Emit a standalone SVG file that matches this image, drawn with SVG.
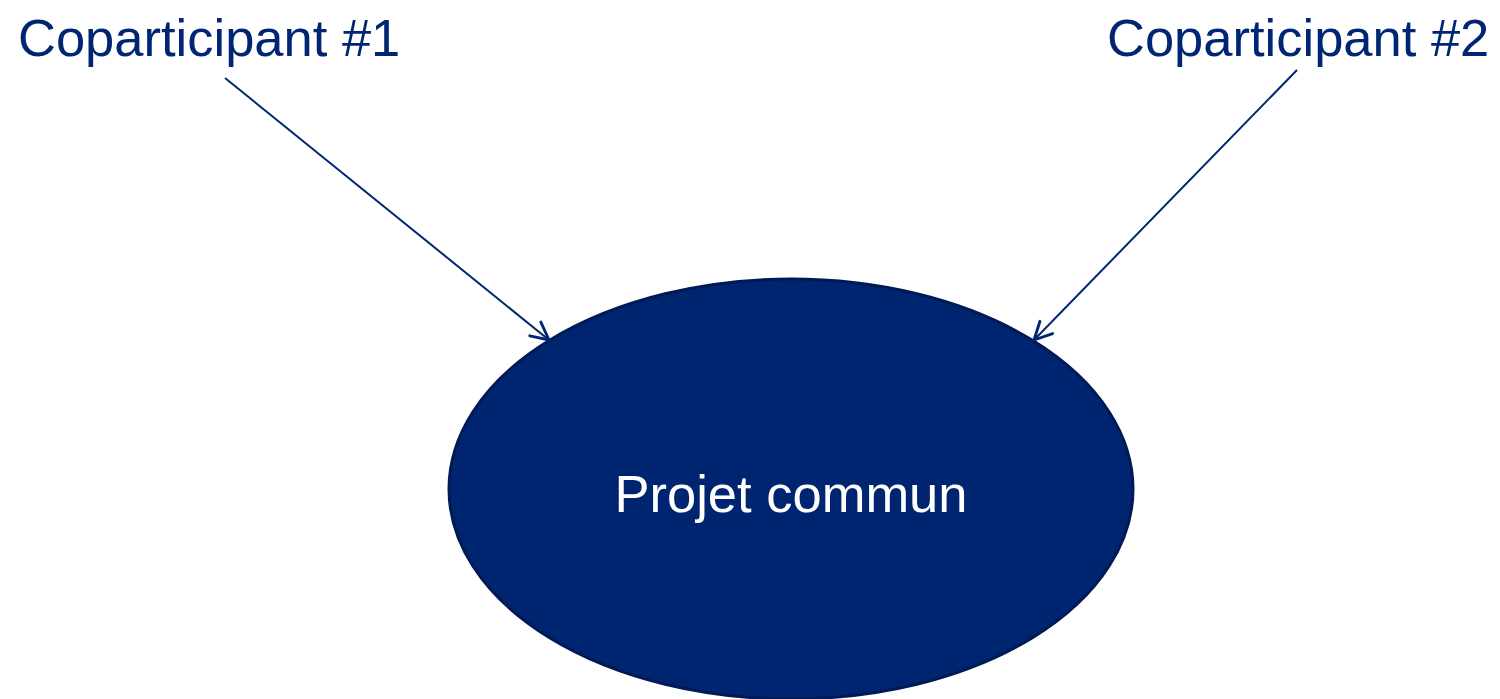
<svg xmlns="http://www.w3.org/2000/svg" width="1500" height="699" viewBox="0 0 1500 699">
<style>
.lbl{font-family:"Liberation Sans",Arial,sans-serif;font-size:52.5px;fill:#002673}
.inner{font-family:"Liberation Sans",Arial,sans-serif;font-size:52.5px;fill:#ffffff}
.conn{stroke:#002673;stroke-width:2;fill:none}
</style>
<defs>
<marker id="arr" viewBox="0 0 20 20" refX="18" refY="10" markerWidth="22" markerHeight="22" markerUnits="userSpaceOnUse" orient="auto">
<path d="M2,2 L18,10 L2,18" fill="none" stroke="#002673" stroke-width="2.6" stroke-linecap="round"/>
</marker>
</defs>
<rect width="1500" height="699" fill="#ffffff"/>
<g id="projet">
<ellipse cx="791" cy="489" rx="342" ry="210" fill="#002570" stroke="#001a55" stroke-width="3"/>
<text class="inner" x="791" y="512" text-anchor="middle">Projet commun</text>
</g>
<g id="cop1">
<text class="lbl" x="18" y="56">Coparticipant #1</text>
</g>
<g id="cop2">
<text class="lbl" x="1107" y="56">Coparticipant #2</text>
</g>
<g id="connectors">
<line class="conn" x1="225" y1="78" x2="549" y2="340" marker-end="url(#arr)"/>
<line class="conn" x1="1297" y1="70" x2="1034" y2="340" marker-end="url(#arr)"/>
</g>
</svg>
